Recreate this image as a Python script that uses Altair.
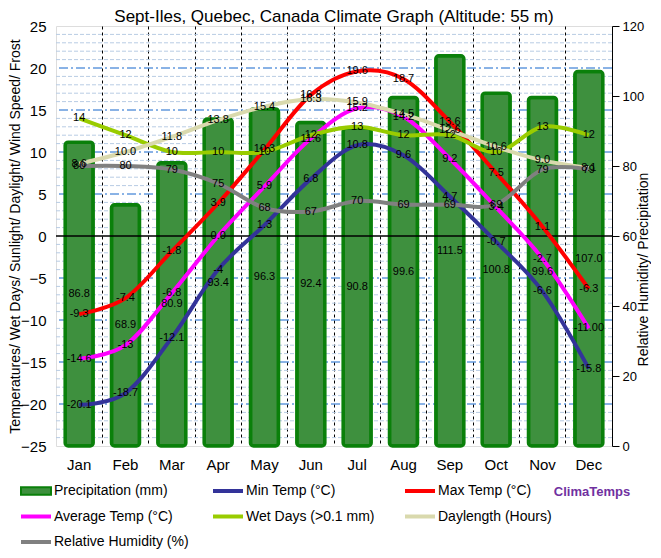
import altair as alt
import pandas as pd

months = ["Jan", "Feb", "Mar", "Apr", "May", "Jun", "Jul", "Aug", "Sep", "Oct", "Nov", "Dec"]

# values as printed on the chart
precipitation = ["86.8", "68.9", "80.9", "93.4", "96.3", "92.4", "90.8", "99.6", "111.5", "100.8", "99.6", "107.0"]
min_temp = ["-20.1", "-18.7", "-12.1", "-4", "1.3", "6.8", "10.8", "9.6", "4.7", "-0.7", "-6.6", "-15.8"]
max_temp = ["-9.3", "-7.4", "-1.8", "3.9", "10.3", "16.8", "19.6", "18.7", "13.6", "7.5", "1.1", "-6.3"]
avg_temp = ["-14.6", "-13", "-6.8", "0.0", "5.9", "11.6", "15.2", "14.2", "9.2", "3.4", "-2.7", "-11.00"]
wet_days = ["14", "12", "10", "10", "10", "12", "13", "12", "12", "10", "13", "12"]
daylength = ["8.6", "10.0", "11.8", "13.8", "15.4", "16.3", "15.9", "14.5", "12.6", "10.6", "9.0", "8.1"]
humidity = ["80", "80", "79", "75", "68", "67", "70", "69", "69", "69", "79", "79"]

series_names = ["Precipitation (mm)", "Min Temp (°C)", "Max Temp (°C)", "Average Temp (°C)",
                "Wet Days (>0.1 mm)", "Daylength (Hours)", "Relative Humidity (%)"]
series_colors = ["#2f8a2f", "#333399", "#ff0000", "#ff00ff", "#99cc00", "#d9d9ad", "#808080"]

left_ticks = list(range(-25, 26, 5))
right_ticks = list(range(0, 121, 20))

FONT = "Liberation Sans"

# ---------- tables ----------
def long_table(names, lists):
    rows = []
    for n, lst in zip(names, lists):
        for m, s in zip(months, lst):
            rows.append({"month": m, "series": n, "value": float(s), "label": s})
    return pd.DataFrame(rows)

left_df = long_table(series_names[1:6], [min_temp, max_temp, avg_temp, wet_days, daylength])
hum_df = long_table([series_names[6]], [humidity])
precip_df = long_table([series_names[0]], [precipitation])

minor_df = pd.DataFrame({"v": [v for v in range(-25, 26) if v % 5 != 0]})
major_df = pd.DataFrame({"v": [v for v in left_ticks if v not in (-25, 0, 25)]})
zero_df = pd.DataFrame({"v": [0]})

legend_df = pd.DataFrame({
    "name": series_names,
    "col": [i % 3 for i in range(len(series_names))],
    "row": [i // 3 for i in range(len(series_names))],
})

# ---------- shared encodings ----------
y_left_scale = alt.Scale(domain=[-25, 25], nice=False, zero=False)
y_right_scale = alt.Scale(domain=[0, 120], nice=False)
color_scale = alt.Scale(domain=series_names, range=series_colors)


def x_enc(axis=None):
    return alt.X("month:N", sort=months,
                 scale=alt.Scale(type="band", paddingInner=0, paddingOuter=0),
                 axis=axis)


x_axis = alt.Axis(title=None, labelAngle=0, labelFontSize=15, labelColor="black", labelFont=FONT,
                  ticks=False, domain=False, labelPadding=11,
                  grid=True, gridDash=[3, 3], gridColor="black", gridWidth=1, bandPosition=0,
                  gridOpacity=alt.ExprRef(expr="datum.value == 'Jan' ? 0 : 1"))

left_axis = alt.Axis(title="Temperatures/ Wet Days/ Sunlight/ Daylight/ Wind Speed/ Frost",
                     values=left_ticks, labelFontSize=15, labelColor="black", labelFont=FONT,
                     titleFontSize=14, titleFontWeight="normal", titleColor="black", titleFont=FONT,
                     ticks=False, domain=False, grid=False, labelPadding=10, titlePadding=-2)

right_axis = alt.Axis(title="Relative Humidity/ Precipitation", orient="right",
                      values=right_ticks, labelFontSize=13, labelColor="black", labelFont=FONT,
                      titleFontSize=14, titleFontWeight="normal", titleColor="black", titleFont=FONT,
                      titleAngle=270, titleBaseline="top", titlePadding=-7, titleY=243,
                      ticks=True, tickSize=7, tickColor="black", domain=True, domainColor="black",
                      grid=False, labelPadding=3)

# ---------- layers ----------
minor_grid = alt.Chart(minor_df).mark_rule(color="#b8cce4", strokeDash=[4, 2], strokeWidth=1).encode(
    y=alt.Y("v:Q", scale=y_left_scale, axis=None))

major_grid = alt.Chart(major_df).mark_rule(color="#1566cc", strokeDash=[9, 3, 2, 3], strokeWidth=1).encode(
    y=alt.Y("v:Q", scale=y_left_scale, axis=None))

bars = alt.Chart(precip_df).mark_bar(size=28, fill="#3e903e", stroke="#0a800a", strokeWidth=3.5,
                                     cornerRadius=3).encode(
    x=x_enc(x_axis),
    y=alt.Y("value:Q", scale=y_right_scale, axis=right_axis))

zero_line = alt.Chart(zero_df).mark_rule(color="black", strokeWidth=1.5).encode(
    y=alt.Y("v:Q", scale=y_left_scale, axis=None))

left_lines = alt.Chart(left_df).mark_line(interpolate="cardinal", strokeWidth=4).encode(
    x=x_enc(),
    y=alt.Y("value:Q", scale=y_left_scale, axis=left_axis),
    color=alt.Color("series:N", scale=color_scale, legend=None),
    detail="series:N")

hum_line = alt.Chart(hum_df).mark_line(interpolate="cardinal", strokeWidth=4).encode(
    x=x_enc(),
    y=alt.Y("value:Q", scale=y_right_scale, axis=None),
    color=alt.Color("series:N", scale=color_scale, legend=None))

label_mark = dict(fontSize=11, font=FONT, color="black", align="center", baseline="middle")

left_labels = alt.Chart(left_df).mark_text(**label_mark).encode(
    x=x_enc(),
    y=alt.Y("value:Q", scale=y_left_scale, axis=None),
    text="label:N")

hum_labels = alt.Chart(hum_df).mark_text(**label_mark).encode(
    x=x_enc(),
    y=alt.Y("value:Q", scale=y_right_scale, axis=None),
    text="label:N")

precip_labels = alt.Chart(precip_df).transform_calculate(half="datum.value / 2").mark_text(**label_mark).encode(
    x=x_enc(),
    y=alt.Y("half:Q", scale=y_right_scale, axis=None),
    text="label:N")

# ---------- legend ----------
lx = alt.X("col:Q", scale=alt.Scale(domain=[0, 3], range=[-35, 541]), axis=None)
ly = alt.Y("row:Q", scale=alt.Scale(domain=[0, 2], range=[465, 516]), axis=None)

leg_lines = alt.Chart(legend_df).transform_filter(
    alt.datum.name != series_names[0]).mark_point(
    shape="M-1,0H1", size=900, strokeWidth=4, filled=False, opacity=1, xOffset=15).encode(
    x=lx, y=ly, color=alt.Color("name:N", scale=color_scale, legend=None))

leg_bar = alt.Chart(legend_df).transform_filter(
    alt.datum.name == series_names[0]).mark_point(
    shape="M-1,-0.25H1V0.25H-1Z", size=900, filled=True, fill="#3e903e", stroke="#0a800a",
    strokeWidth=2, opacity=1, xOffset=15).encode(x=lx, y=ly)

leg_text = alt.Chart(legend_df).mark_text(align="left", baseline="middle", dx=33, fontSize=14,
                                          font=FONT, color="black").encode(
    x=lx, y=ly, text="name:N")

brand = alt.Chart(pd.DataFrame({"t": ["ClimaTemps"]})).mark_text(
    fontSize=13, fontWeight="bold", font=FONT, color="#7030a0", align="center", baseline="middle").encode(
    x=alt.value(536), y=alt.value(466), text="t:N")

chart = alt.layer(
    minor_grid, major_grid, bars, zero_line, left_lines, hum_line,
    left_labels, hum_labels, precip_labels, leg_bar, leg_lines, leg_text, brand
).resolve_scale(
    y="independent", x="independent"
).properties(
    width=556, height=420,
    padding={"left": 0, "top": 0, "right": 0, "bottom": 0},
    title=alt.Title("Sept-Iles, Quebec, Canada Climate Graph (Altitude: 55 m)",
                    fontSize=17, font=FONT, fontWeight="normal", color="black", anchor="middle", offset=-7),
).configure_view(stroke="#c8efc8", strokeWidth=1).configure(background="white")

chart.save("out.html", embed_options={"renderer": "svg", "actions": False})
